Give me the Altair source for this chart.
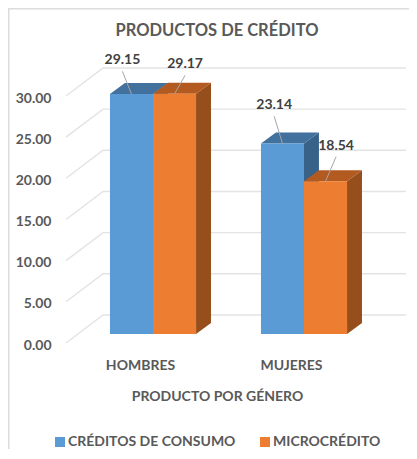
import altair as alt
import pandas as pd

GROUPS = ["HOMBRES", "MUJERES"]
SERIES = ["CRÉDITOS DE CONSUMO", "MICROCRÉDITO"]
CONSUMO = [29.15, 23.14]
MICRO = [29.17, 18.54]
TICKS = [0, 5, 10, 15, 20, 25, 30]
TITLE = "PRODUCTOS DE CRÉDITO"

FRONT = {SERIES[0]: "#5b9bd5", SERIES[1]: "#ed7d31"}
TOP = {SERIES[0]: "#41719c", SERIES[1]: "#b35a20"}
SIDE = {SERIES[0]: "#386288", SERIES[1]: "#964f1c"}
FONT = "Lato"
GREY = "#595959"

# geometry expressed in data units of the scales below
BAR_W = 0.285
DX, DY = 0.099, 1.34
WALL_X0, WALL_X1, GRID_X0 = -0.331, 1.675, -0.576
WALL_DY, FLOOR_DY = 2.31, -1.09
LABEL_SHIFT = [(-0.06, 4.1), (0.07, 3.6), (-0.055, 4.65), (0.07, 4.35)]

x_s = alt.Scale(domain=[0, 1], range=[145, 296], zero=False, nice=False)
y_s = alt.Scale(domain=[0, 30], range=[326, 79], zero=False, nice=False)
x_axis = alt.Axis(values=[0, 1], labelExpr="datum.value == 0 ? 'HOMBRES' : 'MUJERES'",
                  grid=False, domain=False, ticks=False, offset=-91, labelPadding=0, labelFlush=False,
                  labelOffset=-13, labelFont=FONT, labelFontSize=14, labelFontWeight="bold",
                  labelColor=GREY, titleFont=FONT, titleFontSize=14, titleFontWeight="bold",
                  titleColor=GREY, titlePadding=17, titleX=209)
y_axis = alt.Axis(values=TICKS, format=".2f", grid=False, domain=False, ticks=False,
                  offset=-43, labelPadding=0, labelOffset=11, labelFont=FONT,
                  labelFontSize=14, labelFontWeight="bold", labelColor=GREY)
X = lambda f: alt.X(f, type="quantitative", scale=x_s, axis=x_axis, title="PRODUCTO POR GÉNERO")
Y = lambda f: alt.Y(f, type="quantitative", scale=y_s, axis=y_axis, title=None)

rows = []
for gi, g in enumerate(GROUPS):
    for si, (s, vals) in enumerate(zip(SERIES, (CONSUMO, MICRO))):
        left = gi + (si - 1) * BAR_W
        rows.append(dict(group=g, series=s, v=vals[gi], base=0, left=left, right=left + BAR_W,
                         mid=left + BAR_W / 2, label=f"{vals[gi]:.2f}"))
bars = pd.DataFrame(rows)
for i, (ox, oy) in enumerate(LABEL_SHIFT):
    bars.loc[i, "lx"] = bars.loc[i, "mid"] + ox
    bars.loc[i, "ly"] = bars.loc[i, "v"] + oy
    bars.loc[i, "ly0"] = bars.loc[i, "ly"] - 1.35

# gridlines: slanted floor stub then along the back wall
grid = []
for t in TICKS:
    grid += [dict(t=t, o=0, x=GRID_X0, y=t + FLOOR_DY),
             dict(t=t, o=1, x=WALL_X0, y=t + WALL_DY),
             dict(t=t, o=2, x=WALL_X1, y=t + WALL_DY)]
grid = pd.DataFrame(grid)

layers = []
layers.append(alt.Chart(grid).mark_line(color="#e3e3e3", strokeWidth=1.4).encode(
    x=X("x"), y=Y("y"), detail="t:N", order="o:Q"))

for s in SERIES:
    side, top = [], []
    for _, r in bars[bars.series == s].iterrows():
        side += [dict(g=r.group, x=r.right, y=r.v, y2=0.0),
                 dict(g=r.group, x=r.right + DX, y=r.v + DY, y2=DY)]
        top += [dict(g=r.group, y=r.v, x=r.left, x2=r.right),
                dict(g=r.group, y=r.v + DY, x=r.left + DX, x2=r.right + DX)]
    layers.append(alt.Chart(pd.DataFrame(side)).mark_area(orient="vertical", color=SIDE[s]).encode(
        x=X("x"), y=Y("y"), y2="y2:Q", detail="g:N"))
    layers.append(alt.Chart(pd.DataFrame(top)).mark_area(orient="horizontal", color=TOP[s]).encode(
        y=Y("y"), x=X("x"), x2="x2:Q", detail="g:N"))

layers.append(alt.Chart(bars).mark_rect().encode(
    x=X("left"), x2="right:Q", y=Y("v"), y2="base:Q",
    color=alt.Color("series:N", scale=alt.Scale(domain=SERIES, range=[FRONT[s] for s in SERIES]),
                    legend=alt.Legend(orient="none", legendX=45, legendY=427, direction="horizontal",
                                      title=None, symbolType="square", symbolSize=100, symbolStrokeWidth=0,
                                      labelFont=FONT, labelFontSize=14, labelFontWeight="bold", labelLimit=0,
                                      labelColor=GREY, columnPadding=22, labelOffset=1))))

# leader lines and value labels
layers.append(alt.Chart(bars).mark_rule(color="#a6a6a6", strokeWidth=1).encode(
    x=X("mid"), y=Y("v"), x2="lx:Q", y2="ly0:Q"))
layers.append(alt.Chart(bars).mark_text(font=FONT, fontSize=14, fontWeight="bold", color="#404040").encode(
    x=X("lx"), y=Y("ly"), text="label:N"))

# chart title and frame
one = pd.DataFrame({"a": [0]})
layers.append(alt.Chart(one).mark_text(font=FONT, fontSize=16.5, fontWeight="bold", color=GREY).encode(
    x=alt.value(209), y=alt.value(23), text=alt.value(TITLE)))
layers.append(alt.Chart(one).mark_rule(color="#dcdcdc", strokeWidth=1.5).encode(
    x=alt.value(0.5), x2=alt.value(401), y=alt.value(0.75)))
layers.append(alt.Chart(one).mark_rule(color="#dcdcdc", strokeWidth=1.5).encode(
    x=alt.value(0.75), y=alt.value(0), y2=alt.value(441)))

chart = alt.layer(*layers).properties(
    width=401, height=441,
    padding=0,
    autosize=alt.AutoSizeParams(type="none"),
).configure_view(stroke=None)

chart.save("out.html", embed_options={"renderer": "svg", "actions": False})
